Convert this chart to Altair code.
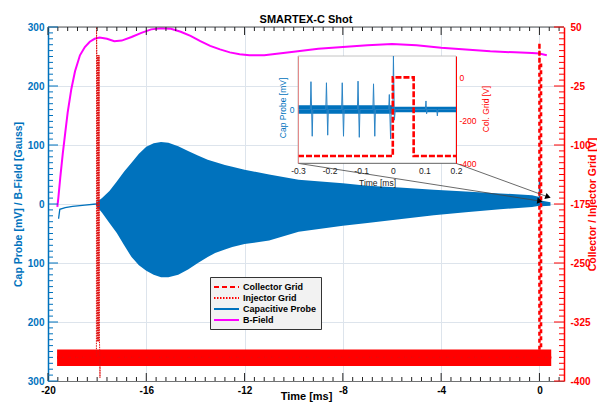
import altair as alt
import pandas as pd

# ---------------- data ----------------
# B-Field [Gauss] (left scale)
bfield_t = [-19.62, -19.58, -19.5, -19.4, -19.3, -19.2, -19.05, -18.9, -18.7, -18.5, -18.3, -18.1,
            -17.9, -17.6, -17.3, -17.0, -16.6, -16.2, -15.8, -15.4, -15.0, -14.6, -14.2, -13.8,
            -13.4, -13.0, -12.6, -12.2, -11.8, -11.2, -10.6, -10.0, -9.0, -8.0, -7.0, -6.0,
            -5.0, -4.0, -3.0, -2.0, -1.0, -0.3, 0.0, 0.3]
bfield_v = [-5, 10, 45, 85, 120, 155, 195, 225, 252, 266, 275, 280,
            282, 280, 276, 277, 283, 290, 296, 298, 297, 292, 285, 276,
            268, 262, 257, 254, 252, 252, 255, 258, 263, 266, 269, 271,
            269, 265, 262, 259, 257, 256, 255, 252]

# Capacitive probe [mV]: envelope of the fast oscillation (left scale)
env_t = [-18.05, -17.8, -17.5, -17.2, -16.9, -16.6, -16.3, -16.0, -15.7, -15.4, -15.1, -14.7,
         -14.3, -13.9, -13.5, -13.2, -12.8, -12.5, -12.0, -11.0, -9.8, -8.0, -7.0, -5.7,
         -4.3, -3.0, -1.6, -0.3, 0.0, 0.05, 0.45]
env_up = [2, 10, 22, 38, 55, 70, 85, 97, 103, 105, 104, 98,
          90, 82, 75, 71, 66, 63, 58, 50, 41, 35, 31, 28,
          24, 21, 18, 15, 12, 6, 3]
env_lo = [-2, -15, -32, -49, -70, -90, -104, -113, -120, -124, -124, -120,
          -111, -100, -90, -83, -77, -73, -68, -62, -47, -37, -32, -26,
          -19, -14, -9, -5, -3, -4, -3]
# Capacitive probe before the oscillation and the spike at t = 0
probe_seg = ["pre", "pre", "pre", "pre", "pre", "pre", "spike", "spike"]
probe_t = [-19.57, -19.52, -19.3, -19.0, -18.5, -18.05, 0.0, 0.0]
probe_v = [-25, -9, -6, -4, -2, 0, -2, 40]

# Grid voltages [V] (right scale): noise band and the two traces
noise_t = [-19.63, 0.48]
noise_up = [-360, -360]
noise_lo = [-381, -381]
col_t = [-19.63, 0.0, 0.0, 0.004, 0.066, 0.066, 0.48]
col_v = [-370, -370, 30, 2, 2, -370, -370]
inj_t = [-19.63, -18.03, -18.025, -18.01, -17.995, -17.98, -17.965, -17.95, -17.935, -17.92,
         -17.905, -17.89, -17.885, -17.88, 0.48]
inj_v = [-370, -370, 50, 14, -350, 14, -350, 14, -350, 14, -350, -370, -396, -370, -370]

# Zoom-in connector arrows (main axes, left scale)
arrow_x1 = [-9.83, -3.40]
arrow_y1 = [69, 69]
arrow_x2 = [0.02, 0.35]
arrow_y2 = [5, 12]
arrow_ang = [9, 20]

# Inset: capacitive probe [mV] and collector grid [V] around t = 0
ins_band_t = [-0.3, -0.001, 0.001, 0.2]
ins_band_up = [8, 8, 5, 5]
ins_band_lo = [-8, -8, -5, -5]
ins_t = [-0.3,
         -0.261, -0.259, -0.255, -0.253,
         -0.212, -0.210, -0.206, -0.204,
         -0.162, -0.160, -0.156, -0.154,
         -0.112, -0.110, -0.106, -0.104,
         -0.063, -0.061, -0.057, -0.055,
         -0.013, -0.011, -0.007, -0.005,
         0.000, 0.002, 0.005, 0.008,
         0.103, 0.105, 0.107, 0.109,
         0.139, 0.141, 0.143,
         0.2]
ins_v = [0,
         0, 52, -50, 0,
         0, 50, -48, 0,
         0, 50, -50, 0,
         0, 53, -52, 0,
         0, 48, -50, 0,
         0, 28, -55, 0,
         0, 100, -20, 0,
         0, 16, -8, 0,
         0, -12, 0,
         0]
ins_col_t = [-0.3, 0.0, 0.0, 0.066, 0.066, 0.2]
ins_col_v = [-367, -367, 0, 0, -367, -367]

legend_series = ["Collector Grid", "Injector Grid", "Capacitive Probe", "B-Field"]
chart_title = "SMARTEX-C Shot"

# axis tick values
XMAJ = [-20, -16, -12, -8, -4, 0]
XMIN = [round(-20 + 0.4 * i, 1) for i in range(53) if i % 10]
YLMAJ = [-300, -200, -100, 0, 100, 200, 300]
YLMIN = [-300 + 10 * i for i in range(61) if i % 10]
YRMAJ = [50, -25, -100, -175, -250, -325, -400]
YRMIN = [50 - 7.5 * i for i in range(61) if i % 10]
IXMAJ = [-0.3, -0.2, -0.1, 0, 0.1, 0.2]

# ---------------- style ----------------
W, H = 516, 354
XDOM = [-20, 1]
YLDOM = [-300, 300]
YRDOM = [-400, 50]
IX_DOM, IX_RNG = [-0.3, 0.2], [250, 408]
IYL_DOM, IYR_DOM, IY_RNG = [-100, 100], [-400, 100], [136, 29]
BLUE = "#0072BD"
RED = "#ff0000"
MAG = "#ff00ff"
GRID = "#dde4ec"
FONT = "Liberation Sans"
PX_X = (XDOM[1] - XDOM[0]) / W      # data units per pixel along x
PX_Y = (YLDOM[1] - YLDOM[0]) / H    # data units per pixel along y (left scale)


def sc(dom, rng=None):
    kw = dict(domain=dom, nice=False, zero=False)
    if rng is not None:
        kw["range"] = rng
    return alt.Scale(**kw)


def df(**cols):
    d = pd.DataFrame(cols)
    d["i"] = range(len(d))
    return d


dummy = pd.DataFrame({"v": [0]})


def x_axis_layer(axis, dom=XDOM, rng=None):
    return alt.Chart(dummy).mark_point(opacity=0).encode(
        x=alt.X("v:Q", scale=sc(dom, rng), axis=axis))


def y_axis_layer(axis, dom, rng=None):
    return alt.Chart(dummy).mark_point(opacity=0).encode(
        y=alt.Y("v:Q", scale=sc(dom, rng), axis=axis))


Xm = lambda f: alt.X(f, scale=sc(XDOM), axis=None)
YLm = lambda f: alt.Y(f, scale=sc(YLDOM), axis=None)


def seg_layer(d, color, ydom=YLDOM, width=1.0):
    # straight segments (x1,y1)-(x2,y2) drawn through the main scales
    return alt.Chart(d).mark_rule(color=color, strokeWidth=width).encode(
        x=Xm("x1:Q"), x2="x2:Q",
        y=alt.Y("y1:Q", scale=sc(ydom), axis=None), y2="y2:Q")


# inward tick marks (MATLAB style)
def x_ticks(values, edge, length_px, color="#222"):
    sgn = 1 if edge == YLDOM[0] else -1
    n = len(values)
    d = pd.DataFrame({"x1": values, "x2": values, "y1": [edge] * n,
                      "y2": [edge + sgn * length_px * PX_Y] * n})
    return seg_layer(d, color)


def y_ticks(values, ydom, edge, length_px, color):
    sgn = 1 if edge == XDOM[0] else -1
    n = len(values)
    d = pd.DataFrame({"y1": values, "y2": values, "x1": [edge] * n,
                      "x2": [edge + sgn * length_px * PX_X] * n})
    return seg_layer(d, color, ydom)


# ---------------- main data layers ----------------
YRm = lambda f: alt.Y(f, scale=sc(YRDOM), axis=None)

env_layer = alt.Chart(df(t=env_t, up=env_up, lo=env_lo)).mark_area(
    color=BLUE, clip=True).encode(x=Xm("t:Q"), y=YLm("up:Q"), y2="lo:Q")

probe_layer = alt.Chart(df(seg=probe_seg, t=probe_t, v=probe_v)).mark_line(
    color=BLUE, strokeWidth=1.3, clip=True).encode(
    x=Xm("t:Q"), y=YLm("v:Q"), detail="seg:N", order="i:Q")

bfield_layer = alt.Chart(df(t=bfield_t, v=bfield_v)).mark_line(
    color=MAG, strokeWidth=2, clip=True).encode(x=Xm("t:Q"), y=YLm("v:Q"), order="i:Q")

noise_layer = alt.Chart(df(t=noise_t, up=noise_up, lo=noise_lo)).mark_area(
    color=RED, clip=True).encode(x=Xm("t:Q"), y=YRm("up:Q"), y2="lo:Q")

inj_layer = alt.Chart(df(t=inj_t, v=inj_v)).mark_line(
    color="#e01010", strokeWidth=1, strokeDash=[1.5, 1], clip=True).encode(
    x=Xm("t:Q"), y=YRm("v:Q"), order="i:Q")

col_layer = alt.Chart(df(t=col_t, v=col_v)).mark_line(
    color=RED, strokeWidth=2.5, strokeDash=[4, 3], clip=True).encode(
    x=Xm("t:Q"), y=YRm("v:Q"), order="i:Q")

arrows = df(x1=arrow_x1, y1=arrow_y1, x2=arrow_x2, y2=arrow_y2, ang=arrow_ang)
arrow_lines = seg_layer(arrows, "#444", width=0.8)
arrow_heads = alt.Chart(arrows).mark_point(
    shape="triangle-right", filled=True, color="black", opacity=1, size=40).encode(
    x=Xm("x2:Q"), y=YLm("y2:Q"), angle=alt.Angle("ang:Q", scale=None))

# top frame line and ticks
frame_top = seg_layer(pd.DataFrame({"x1": [XDOM[0]], "x2": [XDOM[1]],
                                    "y1": [YLDOM[1]], "y2": [YLDOM[1]]}), "#555")
tick_layers = [
    frame_top,
    x_ticks(XMAJ, YLDOM[0], 8), x_ticks(XMIN, YLDOM[0], 4),
    x_ticks(XMAJ, YLDOM[1], 8), x_ticks(XMIN, YLDOM[1], 4),
    y_ticks(YLMAJ, YLDOM, XDOM[0], 10, BLUE), y_ticks(YLMIN, YLDOM, XDOM[0], 5, BLUE),
    y_ticks(YRMAJ, YRDOM, XDOM[1], 10, RED), y_ticks(YRMIN, YRDOM, XDOM[1], 5, RED),
]

# chart title as text placed just above the plot
title_layer = alt.Chart(pd.DataFrame({"label": [chart_title], "x": [sum(XDOM) / 2],
                                      "y": [YLDOM[1] + 4 * PX_Y]})).mark_text(
    font=FONT, fontSize=11, fontWeight="bold", color="black", align="center",
    baseline="alphabetic").encode(x=Xm("x:Q"), y=YLm("y:Q"), text="label:N")

# ---------------- inset ----------------
IXs = lambda f: alt.X(f, scale=sc(IX_DOM, IX_RNG), axis=None)
IYL = lambda f: alt.Y(f, scale=sc(IYL_DOM, IY_RNG), axis=None)
IYR = lambda f: alt.Y(f, scale=sc(IYR_DOM, IY_RNG), axis=None)

inset_bg = alt.Chart(pd.DataFrame({"x1": [IX_DOM[0]], "x2": [IX_DOM[1]],
                                   "y1": [IYL_DOM[0]], "y2": [IYL_DOM[1]]})).mark_rect(
    fill="white", stroke="#b5b5b5", strokeWidth=0.8).encode(
    x=IXs("x1:Q"), x2="x2:Q", y=IYL("y1:Q"), y2="y2:Q")

inset_band = alt.Chart(df(t=ins_band_t, up=ins_band_up, lo=ins_band_lo)).mark_area(
    color=BLUE).encode(x=IXs("t:Q"), y=IYL("up:Q"), y2="lo:Q")
inset_probe = alt.Chart(df(t=ins_t, v=ins_v)).mark_line(
    color="#2a84c6", strokeWidth=1).encode(x=IXs("t:Q"), y=IYL("v:Q"), order="i:Q")
inset_col = alt.Chart(df(t=ins_col_t, v=ins_col_v)).mark_line(
    color=RED, strokeWidth=2.6, strokeDash=[6, 2]).encode(
    x=IXs("t:Q"), y=IYR("v:Q"), order="i:Q")

# ---------------- legend ----------------
leg = alt.Legend(orient="none", legendX=162, legendY=250, title=None,
                 fillColor="#f2f2f2", strokeColor="#333", padding=4,
                 labelFont=FONT, labelFontWeight="bold", labelFontSize=9, labelColor="black",
                 symbolType="M-1.2,0H3.8", symbolSize=100, symbolStrokeWidth=1.8,
                 labelOffset=17, rowPadding=0, cornerRadius=0)
legend_layer = alt.Chart(pd.DataFrame({"series": legend_series,
                                       "t": [-30] * 4, "v": [0] * 4})).mark_line(clip=True).encode(
    x=Xm("t:Q"), y=YLm("v:Q"),
    color=alt.Color("series:N", scale=alt.Scale(domain=legend_series,
                                                range=[RED, RED, BLUE, MAG]), legend=leg),
    strokeDash=alt.StrokeDash("series:N", scale=alt.Scale(
        domain=legend_series, range=[[5, 3], [1.5, 1.5], [1, 0], [1, 0]]), legend=leg))

# ---------------- axes ----------------
x_lab = alt.Axis(orient="bottom", values=XMAJ, labelExpr="'' + datum.value",
                 labelFont=FONT, labelFontWeight="bold", labelFontSize=10, labelColor="black",
                 labelFlush=False, ticks=False, tickSize=0, domain=True, domainColor="#555",
                 domainWidth=0.8, grid=True, gridColor=GRID, gridWidth=1, labelPadding=4,
                 title="Time [ms]", titleFont=FONT, titleFontWeight="bold", titleFontSize=11,
                 titleColor="black", titleBaseline="alphabetic", titleX=W / 2, titleY=18)
yl_lab = alt.Axis(orient="left", values=YLMAJ, labelExpr="'' + abs(datum.value)",
                  labelFont=FONT, labelFontWeight="bold", labelFontSize=10, labelColor=BLUE,
                  ticks=False, tickSize=0, domain=True, domainColor=BLUE, domainWidth=1.5,
                  grid=True, gridColor=GRID, gridWidth=1, labelPadding=4,
                  title="Cap Probe [mV] / B-Field [Gauss]", titleFont=FONT, titleColor=BLUE,
                  titleFontWeight="bold", titleFontSize=10.5, titleAngle=270,
                  titleBaseline="bottom", titleAlign="center", titleX=-25, titleY=H / 2)
yr_lab = alt.Axis(orient="right", values=YRMAJ, labelExpr="'' + datum.value",
                  labelFont=FONT, labelFontWeight="bold", labelFontSize=10, labelColor=RED,
                  ticks=False, tickSize=0, domain=True, domainColor=RED, domainWidth=1.5,
                  grid=False, labelPadding=6,
                  title="Collector / Injector Grid [V]", titleFont=FONT, titleColor=RED,
                  titleFontWeight="bold", titleFontSize=10.5, titleAngle=270,
                  titleBaseline="bottom", titleAlign="center", titleX=33, titleY=H / 2)

ix_ax = alt.Axis(orient="bottom", offset=-(H - IY_RNG[0]), values=IXMAJ,
                 labelExpr="'' + datum.value", labelFont=FONT, labelFontSize=8.5,
                 labelColor="#222", labelFlush=False, ticks=False, tickSize=0, domain=True,
                 domainColor="#666", domainWidth=0.8, grid=False, labelPadding=3,
                 title="Time [ms]", titleFont=FONT, titleFontSize=8.5, titleFontWeight="normal",
                 titleColor="#222", titlePadding=4, zindex=1)
iyl_ax = alt.Axis(orient="left", offset=-IX_RNG[0], values=[0], labelExpr="'' + datum.value",
                  labelFont=FONT, labelFontSize=8.5, labelColor=BLUE, ticks=False, tickSize=0,
                  domain=True, domainColor="#e57373", domainWidth=0.8, grid=False,
                  labelPadding=4, title="Cap Probe [mV]", titleFont=FONT, titleFontSize=8.5,
                  titleFontWeight="normal", titleColor=BLUE, titleAngle=270,
                  titleBaseline="bottom", titleAlign="center", titleX=-11, titleY=80.5, zindex=1)
iyr_ax = alt.Axis(orient="right", offset=-(W - IX_RNG[1]), values=[0, -200, -400],
                  labelExpr="'' + datum.value", labelFont=FONT, labelFontSize=8.5,
                  labelColor=RED, ticks=False, tickSize=0, domain=True, domainColor=RED,
                  domainWidth=1, grid=False, labelPadding=3, title="Col. Grid [V]",
                  titleFont=FONT, titleFontSize=8.5, titleFontWeight="normal", titleColor=RED,
                  titleAngle=270, titleBaseline="bottom", titleAlign="center", titleX=34,
                  titleY=81.5, zindex=1)

axis_layers = [
    x_axis_layer(x_lab),
    y_axis_layer(yl_lab, YLDOM),
    y_axis_layer(yr_lab, YRDOM),
    x_axis_layer(ix_ax, IX_DOM, IX_RNG),
    y_axis_layer(iyl_ax, IYL_DOM, IY_RNG),
    y_axis_layer(iyr_ax, IYR_DOM, IY_RNG),
]

chart = alt.layer(
    env_layer, probe_layer, bfield_layer, noise_layer, inj_layer, col_layer,
    arrow_lines, arrow_heads,
    inset_bg, inset_band, inset_probe, inset_col,
    *tick_layers,
    title_layer,
    legend_layer,
    *axis_layers,
).resolve_scale(x="independent", y="independent").properties(
    width=W, height=H,
    autosize=alt.AutoSizeParams(type="none"),
    padding={"left": 40, "top": 19, "right": 33, "bottom": 21},
).configure_view(stroke=None)

chart.save("out.html", embed_options={"renderer": "svg", "actions": False})
